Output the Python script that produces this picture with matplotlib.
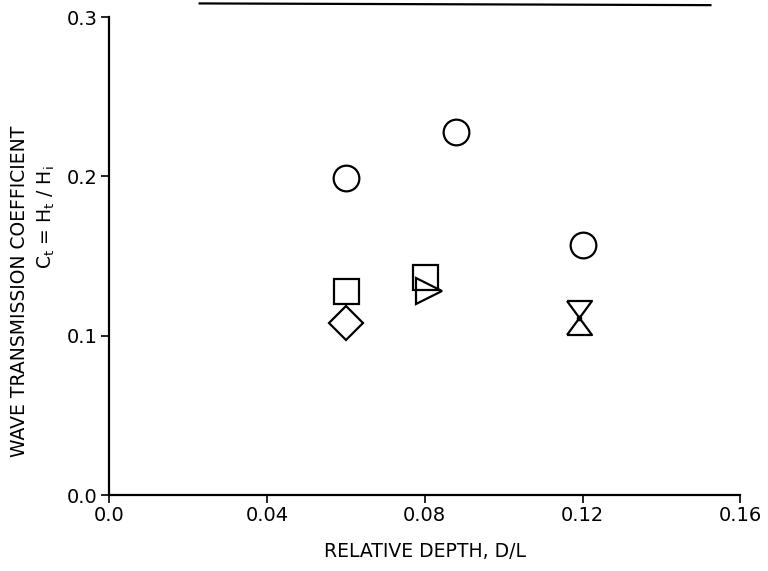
import matplotlib.pyplot as plt
from matplotlib.lines import Line2D

# data
circle_x = [0.060, 0.088, 0.120]
circle_y = [0.199, 0.228, 0.157]
square_x = [0.060, 0.080]
square_y = [0.128, 0.137]
diamond_x = [0.060]
diamond_y = [0.108]
tri_right_x = [0.081]
tri_right_y = [0.128]
tri_down_x = [0.119]
tri_down_y = [0.117]
tri_up_x = [0.119]
tri_up_y = [0.106]

xticks = [0.0, 0.04, 0.08, 0.12, 0.16]
xtick_labels = ['0.0', '0.04', '0.08', '0.12', '0.16']
yticks = [0.0, 0.1, 0.2, 0.3]
ytick_labels = ['0.0', '0.1', '0.2', '0.3']

plt.rcParams['font.family'] = ['DejaVu Sans']

fig = plt.figure(figsize=(7.68, 5.71), dpi=100)
ax = fig.add_axes([0.142, 0.133, 0.822, 0.837])

mk = dict(linestyle='none', markerfacecolor='none', markeredgecolor='black', markeredgewidth=1.6)
ax.plot(circle_x, circle_y, marker='o', markersize=18.5, **mk)
ax.plot(square_x, square_y, marker='s', markersize=18, **mk)
ax.plot(diamond_x, diamond_y, marker='D', markersize=17, **mk)
ax.plot(tri_right_x, tri_right_y, marker='>', markersize=19, **mk)
# flattened triangles for the hourglass
down = [(-1, 0.68), (1, 0.68), (0, -0.68), (-1, 0.68)]
up = [(-1, -0.68), (1, -0.68), (0, 0.68), (-1, -0.68)]
ax.plot(tri_down_x, tri_down_y, marker=down, markersize=18, **mk)
ax.plot(tri_up_x, tri_up_y, marker=up, markersize=18, **mk)
ax.plot(tri_up_x, [0.111], marker='o', markersize=3, color='black', linestyle='none')

ax.set_xlim(0, 0.16)
ax.set_ylim(0, 0.3)
ax.set_xticks(xticks)
ax.set_xticklabels(xtick_labels)
ax.set_yticks(yticks)
ax.set_yticklabels(ytick_labels)
ax.tick_params(labelsize=14, length=6, width=1.2, direction='out', pad=2)
for s in ['top', 'right']:
    ax.spines[s].set_visible(False)
for s in ['left', 'bottom']:
    ax.spines[s].set_linewidth(1.6)

ax.set_xlabel('RELATIVE DEPTH, D/L', fontsize=13.5, labelpad=12)
fig.text(0.026, 0.49, 'WAVE TRANSMISSION COEFFICIENT', rotation=90,
         ha='center', va='center', fontsize=13.5)
fig.text(0.06, 0.62, r'C$_{\rm t}$ = H$_{\rm t}$ / H$_{\rm i}$', rotation=90,
         ha='center', va='center', fontsize=13.5)

# stray rule at the very top of the scan
fig.add_artist(Line2D([0.26, 0.925], [0.994, 0.991], transform=fig.transFigure,
                      color='black', linewidth=1.6))

fig.savefig('out.png', dpi=100)
